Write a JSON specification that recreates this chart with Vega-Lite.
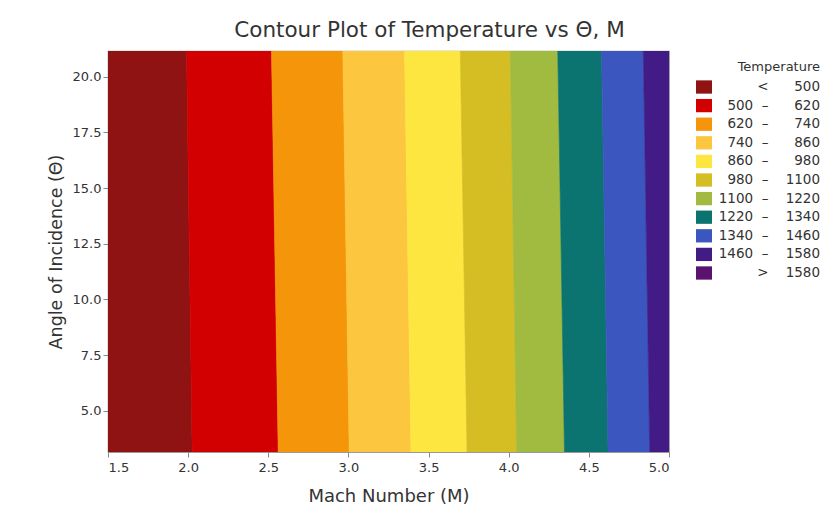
{
  "$schema": "https://vega.github.io/schema/vega-lite/v6.json",
  "width": 561,
  "height": 401,
  "autosize": {"type": "none"},
  "padding": {"left": 108, "top": 51, "right": 168, "bottom": 54},
  "background": "white",
  "title": {
    "text": "Contour Plot of Temperature vs Θ, M",
    "font": "DejaVu Sans",
    "fontSize": 21.5,
    "fontWeight": "normal",
    "color": "#333333",
    "anchor": "middle",
    "dx": 41,
    "offset": 10
  },
  "config": {
    "font": "DejaVu Sans",
    "view": {"stroke": "#9a9a9a", "strokeWidth": 1.2},
    "axis": {
      "domain": false,
      "grid": false,
      "tickColor": "#8a8a8a",
      "tickSize": 5,
      "labelFont": "DejaVu Sans",
      "labelFontSize": 13,
      "labelColor": "#333333",
      "titleFont": "DejaVu Sans",
      "titleFontWeight": "normal",
      "titleColor": "#333333"
    },
    "legend": {
      "titleFont": "DejaVu Sans",
      "labelFont": "DejaVu Sans"
    }
  },
  "data": {
    "values": [
      {"band": "<500", "theta": 21.15, "m_lo": 1.5, "m_hi": 1.99},
      {"band": "<500", "theta": 3.15, "m_lo": 1.5, "m_hi": 2.025},
      {"band": "500–620", "theta": 21.15, "m_lo": 1.99, "m_hi": 2.52},
      {"band": "500–620", "theta": 3.15, "m_lo": 2.025, "m_hi": 2.562},
      {"band": "620–740", "theta": 21.15, "m_lo": 2.52, "m_hi": 2.965},
      {"band": "620–740", "theta": 3.15, "m_lo": 2.562, "m_hi": 3.005},
      {"band": "740–860", "theta": 21.15, "m_lo": 2.965, "m_hi": 3.35},
      {"band": "740–860", "theta": 3.15, "m_lo": 3.005, "m_hi": 3.39},
      {"band": "860–980", "theta": 21.15, "m_lo": 3.35, "m_hi": 3.698},
      {"band": "860–980", "theta": 3.15, "m_lo": 3.39, "m_hi": 3.74},
      {"band": "980–1100", "theta": 21.15, "m_lo": 3.698, "m_hi": 4.01},
      {"band": "980–1100", "theta": 3.15, "m_lo": 3.74, "m_hi": 4.05},
      {"band": "1100–1220", "theta": 21.15, "m_lo": 4.01, "m_hi": 4.306},
      {"band": "1100–1220", "theta": 3.15, "m_lo": 4.05, "m_hi": 4.348},
      {"band": "1220–1340", "theta": 21.15, "m_lo": 4.306, "m_hi": 4.579},
      {"band": "1220–1340", "theta": 3.15, "m_lo": 4.348, "m_hi": 4.62},
      {"band": "1340–1460", "theta": 21.15, "m_lo": 4.579, "m_hi": 4.84},
      {"band": "1340–1460", "theta": 3.15, "m_lo": 4.62, "m_hi": 4.88},
      {"band": "1460–1580", "theta": 21.15, "m_lo": 4.84, "m_hi": 5.0},
      {"band": "1460–1580", "theta": 3.15, "m_lo": 4.88, "m_hi": 5.0}
    ]
  },
  "mark": {"type": "area", "orient": "horizontal", "opacity": 1, "strokeWidth": 0.6, "clip": true},
  "encoding": {
    "y": {
      "field": "theta",
      "type": "quantitative",
      "title": "Angle of Incidence (Θ)",
      "scale": {"domain": [3.15, 21.15], "nice": false, "zero": false},
      "axis": {
        "values": [5, 7.5, 10, 12.5, 15, 17.5, 20],
        "format": ".1f",
        "labelPadding": 2,
        "titleFontSize": 17.5,
        "titlePadding": 7
      }
    },
    "x": {
      "field": "m_lo",
      "type": "quantitative",
      "stack": null,
      "title": "Mach Number (M)",
      "scale": {"domain": [1.5, 5.0], "nice": false, "zero": false},
      "axis": {
        "values": [1.5, 2.0, 2.5, 3.0, 3.5, 4.0, 4.5, 5.0],
        "format": ".1f",
        "labelPadding": 4,
        "titleFontSize": 18,
        "titlePadding": 13
      }
    },
    "x2": {"field": "m_hi"},
    "color": {
      "field": "band",
      "type": "nominal",
      "title": "Temperature",
      "scale": {
        "domain": ["<500", "500–620", "620–740", "740–860", "860–980", "980–1100", "1100–1220", "1220–1340", "1340–1460", "1460–1580", ">1580"],
        "range": ["#8f1313", "#d20000", "#f5960a", "#fcc63f", "#fee641", "#d4be24", "#a0bb40", "#0b7470", "#3c56bf", "#421b87", "#5b1370"]
      },
      "legend": {
        "orient": "none",
        "legendX": 588,
        "legendY": 10,
        "labelExpr": "indexof(datum.label, '–') > 0 ? split(datum.label, '–')[0] + '\u00a0\u00a0–\u00a0\u00a0\u00a0\u00a0' + (length(split(datum.label, '–')[1]) < 4 ? '\u00a0\u00a0' : '') + split(datum.label, '–')[1] : substring(datum.label, 0, 1) + '\u00a0\u00a0\u00a0\u00a0' + (length(datum.label) < 5 ? '\u00a0\u00a0' : '') + substring(datum.label, 1)",
        "symbolType": "M-1,-0.83H1V0.83H-1Z",
        "symbolSize": 256,
        "symbolStrokeWidth": 0,
        "symbolOpacity": 1,
        "rowPadding": 3.6,
        "labelAlign": "right",
        "labelOffset": 108,
        "labelFontSize": 13.5,
        "labelColor": "#333333",
        "titleFontSize": 13,
        "titleFontWeight": "normal",
        "titleColor": "#333333",
        "titleAnchor": "end",
        "titlePadding": 5
      }
    },
    "stroke": {"field": "band", "type": "nominal", "legend": null,
      "scale": {
        "domain": ["<500", "500–620", "620–740", "740–860", "860–980", "980–1100", "1100–1220", "1220–1340", "1340–1460", "1460–1580", ">1580"],
        "range": ["#8f1313", "#d20000", "#f5960a", "#fcc63f", "#fee641", "#d4be24", "#a0bb40", "#0b7470", "#3c56bf", "#421b87", "#5b1370"]
      }
    }
  }
}
